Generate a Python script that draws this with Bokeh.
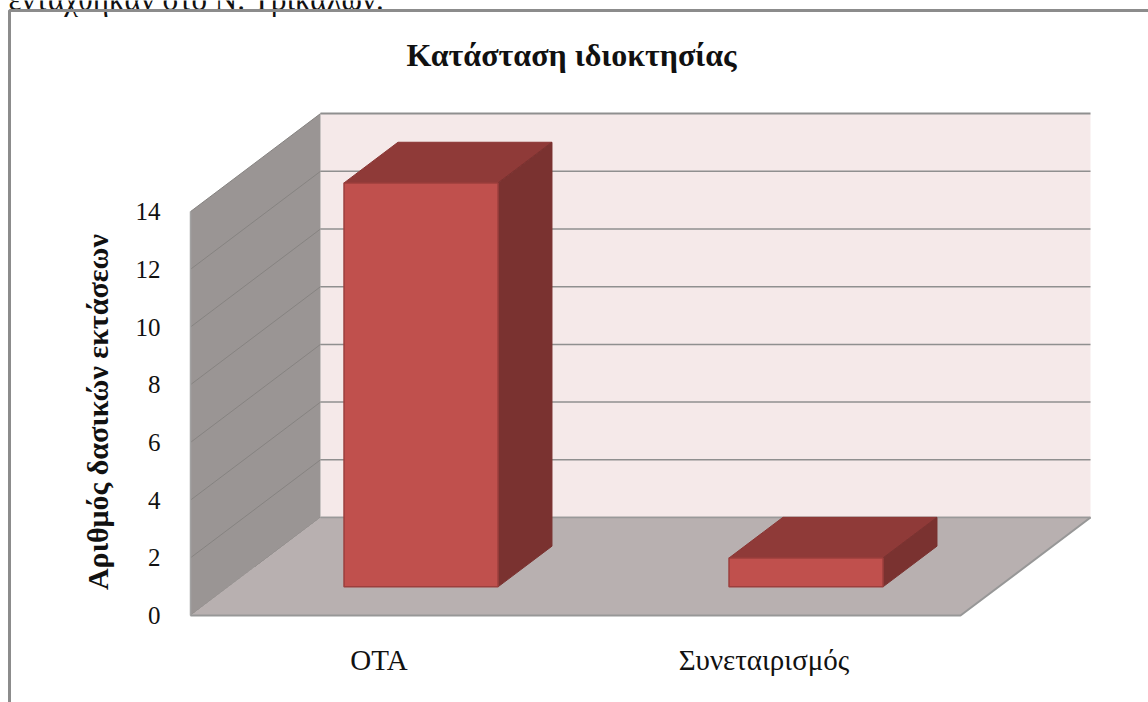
from bokeh.plotting import figure
from bokeh.models import Range1d, FixedTicker, LinearAxis
from bokeh.core.properties import value
from bokeh.embed import file_html
from bokeh.resources import INLINE

title_text = "Κατάσταση ιδιοκτησίας"
categories = ["ΟΤΑ", "Συνεταιρισμός"]
counts = [14, 1]
y_ticks = [0, 2, 4, 6, 8, 10, 12, 14]
y_title = "Αριθμός δασικών εκτάσεων"
top_line = "εντάχθηκαν στο Ν. Τρικάλων."

SERIF = value("Liberation Serif")
PW, PH = 1148, 702          # figure size
PX_X, PX_Y = 385.0, 28.85   # pixels per category / per unit of value
X0, Y0 = 190.0, 615.0       # origin inside the figure, in pixels
DX, DY = 130 / PX_X, 98 / PX_Y   # floor depth in data units
BAR_W = 154 / PX_X
BAR_D = 0.415               # bar depth as share of floor depth
BAR_Z = 0.2925              # bar start as share of floor depth
N = len(categories)
YMAX = max(y_ticks)

p = figure(width=PW, height=PH, output_backend="svg", toolbar_location=None,
           x_range=Range1d(-X0 / PX_X, (PW - X0) / PX_X),
           y_range=Range1d((Y0 - PH) / PX_Y, Y0 / PX_Y),
           min_border=0, x_axis_location=None, y_axis_location=None)
p.xgrid.visible = False
p.ygrid.visible = False
p.outline_line_color = None
p.background_fill_color = "white"
p.border_fill_color = "white"

xl, xr = p.x_range.start, p.x_range.end
yb, yt = p.y_range.start, p.y_range.end

# page text cut off above the chart, and the chart's frame
p.text([xl + 8 / PX_X], [yt + 1 / PX_Y], text=[top_line], text_font=SERIF, text_font_size="31px",
       text_color="#111111", text_baseline="alphabetic", text_align="left")
p.line([xl + 9 / PX_X, xl + 9 / PX_X, xr], [yb, yt - 10 / PX_Y, yt - 10 / PX_Y], line_color="#8c8c8c", line_width=3)

# back wall, side wall, floor
p.patch([DX, DX + N, DX + N, DX], [DY, DY, DY + YMAX, DY + YMAX], fill_color="#F5E9E9", line_color=None)
p.patch([0, DX, DX, 0], [0, DY, DY + YMAX, YMAX], fill_color="#9A9594", line_color=None)
for t in y_ticks:
    p.line([DX, DX + N], [DY + t, DY + t], line_color="#8f8f8f", line_width=2 if t == YMAX else 1.5)
    p.line([0, DX], [t, DY + t], line_color="#868381", line_width=1)
p.patch([0, N, N + DX, DX], [0, 0, DY, DY], fill_color="#B8B0B0", line_color=None)
p.line([0, N, N + DX], [0, 0, DY], line_color="#979797", line_width=2)
p.line([DX, N + DX], [DY, DY], line_color="#999999", line_width=1.5)
p.line([0, 0], [0, YMAX], line_color="#a3a3a3", line_width=1.5)

# bars
for i, v in enumerate(counts):
    a = i + 0.5 - BAR_W / 2 + BAR_Z * DX
    b = a + BAR_W
    z0 = BAR_Z * DY
    dx, dy = BAR_D * DX, BAR_D * DY
    p.patch([a, b, b + dx, a + dx], [z0 + v, z0 + v, z0 + v + dy, z0 + v + dy],
            fill_color="#8F3A38", line_color="#8a3533", line_width=1)
    p.patch([b, b + dx, b + dx, b], [z0, z0 + dy, z0 + v + dy, z0 + v],
            fill_color="#7A3230", line_color="#7a3230", line_width=1)
    p.patch([a, b, b, a], [z0, z0, z0 + v, z0 + v],
            fill_color="#C0504D", line_color="#9c3f3d", line_width=1.5)

# value axis, category axis (drawn inside the frame)
yax = LinearAxis(ticker=FixedTicker(ticks=y_ticks), fixed_location=-24 / PX_X,
                 axis_line_color=None, major_tick_line_color=None, minor_tick_line_color=None,
                 major_label_standoff=0, major_label_text_font="Liberation Serif",
                 major_label_text_font_size="25px", major_label_text_color="#111111")
p.add_layout(yax, "left")
label_shift = 4 / PX_X
xax = LinearAxis(ticker=FixedTicker(ticks=[i + 0.5 - label_shift for i in range(N)]),
                 major_label_overrides={i + 0.5 - label_shift: c for i, c in enumerate(categories)},
                 fixed_location=-22 / PX_Y, axis_line_color=None, major_tick_line_color=None,
                 minor_tick_line_color=None, major_label_standoff=0,
                 major_label_text_font="Liberation Serif", major_label_text_font_size="29px",
                 major_label_text_color="#111111")
p.add_layout(xax, "below")

# titles
p.text([(xl + xr) / 2 - 3 / PX_X], [yt - 54 / PX_Y], text=[title_text], text_font=SERIF, text_font_size="32px",
       text_font_style="bold", text_color="#111111", text_align="center", text_baseline="middle")
p.text([-93 / PX_X], [7.05], text=[y_title], text_font=SERIF, text_font_size="30px",
       text_font_style="bold", text_color="#111111", text_align="center", text_baseline="middle",
       angle=90, angle_units="deg")

open("out.html", "w").write(file_html(p, INLINE))
